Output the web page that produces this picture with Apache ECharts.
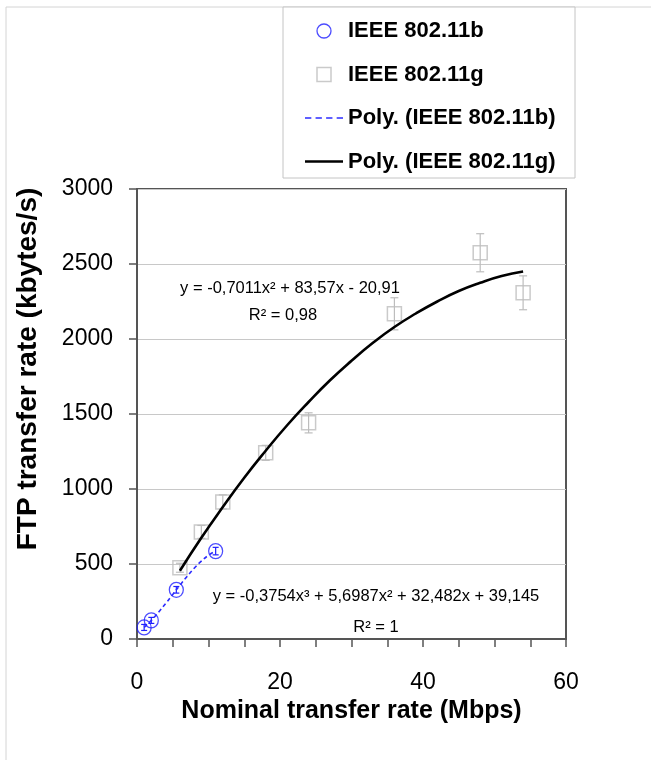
<!DOCTYPE html>
<html>
<head>
<meta charset="UTF-8">
<title>FTP transfer rate</title>
<script src="https://cdn.jsdelivr.net/npm/echarts@6/dist/echarts.min.js"></script>
<style>
    html, body { margin: 0; padding: 0; background: #fff; }
    #chart { width: 651px; height: 760px; }
</style>
</head>
<body>
<div id="chart"></div>
<script>
    // 802.11b measurements (Mbps -> kbytes/s)
    var bRate = [1, 2, 5.5, 11];
    var bFtp = [77, 124, 328, 586];
    var bErr = [20, 20, 22, 25];

    // 802.11g measurements
    var gRate = [6, 9, 12, 18, 24, 36, 48, 54];
    var gFtp = [475, 714, 914, 1241, 1441, 2168, 2575, 2308];
    var gErr = [30, 43, 47, 50, 67, 107, 127, 113];

    // trend curves
    var bTrendX = [1, 2, 3, 4, 5, 6, 7, 8, 9, 10, 11];
    var bTrendY = [77, 124, 178, 236, 297, 358, 417, 472, 519, 558, 586];
    var gTrendX = [6, 9, 12, 15, 18, 21, 24, 27, 30, 33, 36, 39, 42, 45, 48, 51, 54];
    var gTrendY = [455, 675, 880, 1075, 1255, 1425, 1580, 1725, 1855, 1975, 2080, 2170, 2250, 2320, 2375, 2420, 2450];

    var xTickLabels = [0, 20, 40, 60];

    var FONT = '"Liberation Sans", Arial, sans-serif';

    function pairs(xs, ys) {
        return xs.map(function (x, i) { return [x, ys[i]]; });
    }

    // vertical error bar with caps
    function errorBars(xs, ys, errs, color, cap) {
        return {
            type: 'custom',
            silent: true,
            z: 3,
            encode: { x: 0, y: [1, 2] },
            data: xs.map(function (x, i) { return [x, ys[i] - errs[i], ys[i] + errs[i]]; }),
            renderItem: function (params, api) {
                var lo = api.coord([api.value(0), api.value(1)]);
                var hi = api.coord([api.value(0), api.value(2)]);
                var st = { stroke: color, lineWidth: 1.2 };
                return {
                    type: 'group',
                    children: [
                        { type: 'line', shape: { x1: lo[0], y1: lo[1], x2: hi[0], y2: hi[1] }, style: st },
                        { type: 'line', shape: { x1: lo[0] - cap, y1: lo[1], x2: lo[0] + cap, y2: lo[1] }, style: st },
                        { type: 'line', shape: { x1: hi[0] - cap, y1: hi[1], x2: hi[0] + cap, y2: hi[1] }, style: st }
                    ]
                };
            }
        };
    }

    var chart = echarts.init(document.getElementById('chart'));

    var option = {
        animation: false,
        backgroundColor: '#fff',
        textStyle: { fontFamily: FONT },
        grid: {
            left: 137, right: 85, top: 189, bottom: 121,
            show: true, borderColor: '#555', borderWidth: 2
        },
        graphic: [
            { type: 'rect', silent: true, shape: { x: 6, y: 7, width: 800, height: 800 },
              style: { fill: 'none', stroke: '#d4d4d4', lineWidth: 1 } },
            { type: 'rect', silent: true, shape: { x: 283, y: 7, width: 292, height: 171 },
              style: { fill: '#fff', stroke: '#c4c4c4', lineWidth: 1 } },
            { type: 'text', silent: true, x: 290, y: 288,
              style: { text: 'y = -0,7011x² + 83,57x - 20,91', font: '16.5px ' + FONT, fill: '#000', align: 'center', verticalAlign: 'middle' } },
            { type: 'text', silent: true, x: 283, y: 315,
              style: { text: 'R² = 0,98', font: '16.5px ' + FONT, fill: '#000', align: 'center', verticalAlign: 'middle' } },
            { type: 'text', silent: true, x: 376, y: 596,
              style: { text: 'y = -0,3754x³ + 5,6987x² + 32,482x + 39,145', font: '16.5px ' + FONT, fill: '#000', align: 'center', verticalAlign: 'middle' } },
            { type: 'text', silent: true, x: 376, y: 627,
              style: { text: 'R² = 1', font: '16.5px ' + FONT, fill: '#000', align: 'center', verticalAlign: 'middle' } }
        ],
        legend: {
            orient: 'vertical',
            left: 305,
            top: 20,
            padding: 0,
            itemWidth: 38,
            itemHeight: 14,
            itemGap: 21.5,
            selectedMode: false,
            textStyle: { fontFamily: FONT, fontWeight: 'bold', fontSize: 22, color: '#000' },
            data: [
                { name: 'IEEE 802.11b', icon: 'circle',
                  itemStyle: { color: 'rgba(255,255,255,0)', borderColor: '#1f1fff', borderWidth: 1.3 } },
                { name: 'IEEE 802.11g', icon: 'path://M0,0H13V13H0Z',
                  itemStyle: { color: 'rgba(255,255,255,0)', borderColor: '#bdbdbd', borderWidth: 1.5 } },
                { name: 'Poly. (IEEE 802.11b)',
                  icon: 'path://M0,0h6v1.6h-6z M10,0h6v1.6h-6z M20,0h6v1.6h-6z M30,0h6v1.6h-6z',
                  itemStyle: { color: '#2b2bff', borderWidth: 0 } },
                { name: 'Poly. (IEEE 802.11g)', icon: 'path://M0,0H38V2.4H0Z',
                  itemStyle: { color: '#000', borderWidth: 0 } }
            ]
        },
        xAxis: {
            type: 'value',
            min: 0, max: 60, interval: 5,
            name: 'Nominal transfer rate (Mbps)',
            nameLocation: 'middle',
            nameGap: 59,
            nameTextStyle: { fontFamily: FONT, fontWeight: 'bold', fontSize: 25, color: '#000' },
            axisLine: { onZero: false, lineStyle: { color: '#555', width: 2 } },
            axisTick: { length: 8, lineStyle: { color: '#555', width: 1.5 } },
            axisLabel: {
                margin: 32, fontSize: 23, color: '#000',
                formatter: function (v) { return xTickLabels.indexOf(v) >= 0 ? String(v) : ''; }
            },
            splitLine: { show: false }
        },
        yAxis: {
            type: 'value',
            min: 0, max: 3000, interval: 500,
            name: 'FTP transfer rate (kbytes/s)',
            nameLocation: 'middle',
            nameGap: 95,
            nameTextStyle: { fontFamily: FONT, fontWeight: 'bold', fontSize: 28, color: '#000', padding: [0, 0, 0, 90] },
            axisLine: { show: true, lineStyle: { color: '#555', width: 2 } },
            axisTick: { show: true, length: 8, lineStyle: { color: '#555', width: 1.5 } },
            axisLabel: { margin: 24, fontSize: 23, color: '#000', formatter: function (v) { return String(v); } },
            splitLine: { lineStyle: { color: '#c8c8c8', width: 1 } }
        },
        series: [
            {
                name: 'IEEE 802.11b',
                type: 'scatter',
                silent: true,
                z: 4,
                symbol: 'circle',
                symbolSize: [14, 15],
                itemStyle: { color: 'rgba(255,255,255,0)', borderColor: '#1f1fff', borderWidth: 1.3 },
                data: pairs(bRate, bFtp)
            },
            {
                name: 'IEEE 802.11g',
                type: 'scatter',
                silent: true,
                z: 4,
                symbol: 'rect',
                symbolSize: 14,
                itemStyle: { color: 'rgba(255,255,255,0)', borderColor: '#bdbdbd', borderWidth: 1.5 },
                data: pairs(gRate, gFtp)
            },
            errorBars(bRate, bFtp, bErr, '#1f1fff', 3),
            errorBars(gRate, gFtp, gErr, '#bdbdbd', 4),
            {
                name: 'Poly. (IEEE 802.11b)',
                type: 'line',
                silent: true,
                z: 5,
                symbol: 'none',
                smooth: true,
                lineStyle: { color: '#2b2bff', width: 1.6, type: [4, 3] },
                itemStyle: { color: '#2b2bff' },
                data: pairs(bTrendX, bTrendY)
            },
            {
                name: 'Poly. (IEEE 802.11g)',
                type: 'line',
                silent: true,
                z: 5,
                symbol: 'none',
                smooth: true,
                lineStyle: { color: '#000', width: 2.6 },
                itemStyle: { color: '#000' },
                data: pairs(gTrendX, gTrendY)
            }
        ]
    };

    chart.setOption(option);
</script>
</body>
</html>
